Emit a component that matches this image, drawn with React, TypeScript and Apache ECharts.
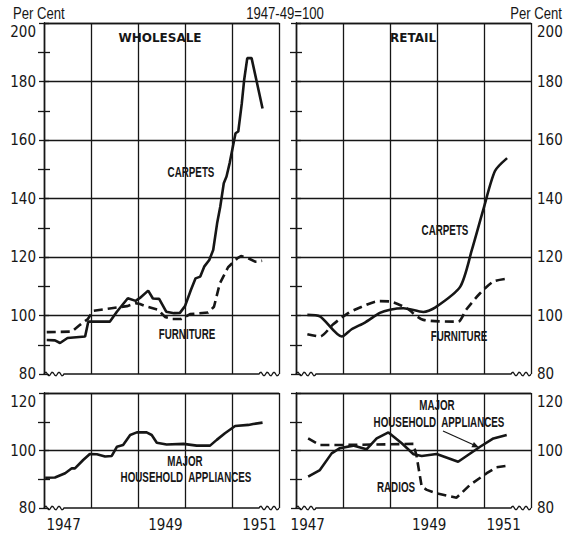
import React, { useEffect, useRef } from "react";
import * as echarts from "echarts";

// x values are months counted from January 1947 (0 = Jan 1947, 12 = Jan 1948 ...)
const wholesaleCarpetMonths = [0.7, 2.8, 4.1, 6, 10.5, 11.3, 16.8, 18.6, 21.4, 23.4, 24.5, 26.6, 27.8, 29.4, 31.2, 33.2, 34.7, 36, 37.5, 38.7, 39.9, 40.9, 42.2, 43.2, 44.2, 45, 45.9, 46.6, 47.4, 48.9, 49.6, 50.5, 51.1, 51.9, 53, 55.8];
const wholesaleCarpetValues = [91.6, 91.5, 90.6, 92.3, 92.8, 97.9, 97.9, 101.3, 105.9, 105, 106, 108.5, 105.8, 105.7, 101.3, 100.8, 100.9, 103.2, 108.7, 112.7, 113.3, 116.7, 119, 122.4, 131.5, 137.2, 145.2, 147.5, 152.1, 162.3, 162.9, 172.5, 180.5, 188, 188, 170.8];

const wholesaleFurnitureMonths = [0.7, 7.1, 9.2, 11.2, 12.5, 16.8, 21.2, 23.5, 24.5, 26.3, 29.1, 30.9, 32.7, 35, 37.3, 41.9, 43.4, 44.9, 47, 49.3, 50.3, 51.8, 53.9, 55.7];
const wholesaleFurnitureValues = [94.3, 94.5, 96.8, 98.8, 101.6, 102.4, 103.2, 104.2, 103.9, 103, 102, 99.5, 98.8, 98.8, 100.5, 101, 103, 111, 116.5, 119.5, 120.3, 119.8, 118.4, 118.7];

const retailCarpetMonths = [2.9, 6.1, 11.7, 14.2, 17.6, 21.4, 24, 27.4, 32.5, 35.5, 41.9, 44.9, 47.8, 50.8, 53.9];
const retailCarpetValues = [100.2, 99.7, 92.8, 95.3, 97.6, 100.9, 102, 102.5, 101.2, 102.7, 109.8, 122.4, 136.1, 149.4, 153.8];

const retailFurnitureMonths = [2.9, 6.1, 9.5, 13.4, 16.8, 21, 24, 28.3, 32.5, 41.4, 43.4, 47, 50.4, 53.8];
const retailFurnitureValues = [93.6, 92.8, 97, 100.9, 103, 104.9, 104.8, 102.4, 98.5, 97.9, 101.9, 107.6, 111.6, 112.6];

const wholesaleApplianceMonths = [0.3, 2.8, 5.4, 7.1, 7.9, 10, 11.7, 13.5, 15.6, 17.3, 18.6, 20.2, 22, 23.7, 26.2, 27.5, 28.8, 31.3, 35.6, 39, 42.4, 44.1, 46.2, 48.8, 52.2, 53.4, 55.8];
const wholesaleApplianceValues = [90.5, 90.6, 92.1, 93.8, 93.8, 96.7, 98.8, 98.7, 97.9, 98.1, 101.3, 101.9, 105.4, 106.3, 106.3, 105.4, 102.7, 102.1, 102.3, 101.7, 101.7, 103.7, 106, 108.5, 108.9, 109.2, 109.7];

const retailApplianceMonths = [3.1, 6.1, 9.1, 11.2, 14.6, 18, 20.6, 23.6, 27, 30, 32.1, 35.9, 41.4, 47, 50.4, 53.8];
const retailApplianceValues = [90.9, 93.2, 99, 100.8, 101.7, 100.4, 104.2, 106.3, 102.5, 98.7, 98.1, 98.8, 96.1, 101.3, 104.2, 105.4];

const retailRadioMonths = [3.1, 6.1, 11.2, 30, 30.8, 32.1, 33.4, 35.9, 41, 44.4, 48.7, 51.2, 53.8];
const retailRadioValues = [104.2, 101.9, 101.9, 102.3, 97.9, 87.4, 86.3, 85.1, 83.6, 88, 92.1, 94.2, 94.7];

const leftYearLabels: Record<number, string> = { 5: "1947", 31: "1949", 55: "1951" };
const rightYearLabels: Record<number, string> = { 3: "1947", 34: "1949", 53: "1951" };

const INK = "#161616";
const NARROW = '"Liberation Sans Narrow", "DejaVu Sans Condensed", "Liberation Sans", sans-serif';

const panels = [
  { left: 44, top: 23, width: 235, height: 351, min: 80, max: 200, side: "left", years: null as null | Record<number, string> },
  { left: 296, top: 23, width: 235, height: 351, min: 80, max: 200, side: "right", years: null as null | Record<number, string> },
  { left: 44, top: 393, width: 235, height: 115, min: 80, max: 120, side: "left", years: leftYearLabels },
  { left: 296, top: 393, width: 235, height: 115, min: 80, max: 120, side: "right", years: rightYearLabels },
];

function zip(xs: number[], ys: number[]) {
  return xs.map((x, i) => [x, ys[i]]);
}

function wavyBorder(left: number, right: number, y: number) {
  const pts: number[][] = [];
  const w = 20;
  for (let k = 0; k <= w; k++) pts.push([left + k, y - 1.8 * Math.sin((k / w) * Math.PI * 6)]);
  for (let k = 0; k <= w; k++) pts.push([right - w + k, y - 1.8 * Math.sin((k / w) * Math.PI * 6)]);
  return pts;
}

export default function App() {
  const ref = useRef<HTMLDivElement>(null);
  useEffect(() => {
    if (!ref.current) return;
    const chart = echarts.init(ref.current, undefined, { renderer: "svg" });
    const line = { color: INK, width: 1.3 };
    const grids: any[] = [];
    const xAxes: any[] = [];
    const yAxes: any[] = [];
    const mainX: number[] = [];
    const mainY: number[] = [];
    panels.forEach((p, i) => {
      grids.push({ left: p.left, top: p.top, width: p.width, height: p.height, show: false, outerBoundsMode: "none" });
      mainX.push(xAxes.length);
      xAxes.push({
        type: "value", gridIndex: i, min: 0, max: 60, interval: 12,
        axisLine: { show: false }, axisTick: { show: false }, axisLabel: { show: false },
        splitLine: { show: true, lineStyle: line },
      });
      xAxes.push({
        type: "value", gridIndex: i, position: "top", min: 0, max: 60, interval: 12,
        axisLine: { show: true, lineStyle: line }, axisTick: { show: false }, axisLabel: { show: false }, splitLine: { show: false },
      });
      if (p.years) {
        const yrs = p.years;
        xAxes.push({
          type: "value", gridIndex: i, position: "bottom", min: 0, max: 60, interval: 1,
          axisLine: { show: false }, axisTick: { show: false }, splitLine: { show: false },
          axisLabel: {
            show: true, margin: 9, color: INK, fontSize: 15, fontFamily: NARROW,
            formatter: (v: number) => yrs[Math.round(v)] ?? "",
          },
        });
      }
      const labelCfg = (show: boolean) => ({
        show, color: INK, fontSize: 15, fontFamily: NARROW, lineHeight: 18,
        margin: p.side === "left" ? 8 : 6,
        formatter: (v: number) => (v === p.max ? "\n" + v : String(v)),
      });
      mainY.push(yAxes.length);
      yAxes.push({
        type: "value", gridIndex: i, position: "left", min: p.min, max: p.max, interval: 20,
        axisLine: { show: true, lineStyle: line },
        axisTick: { show: true, inside: true, length: 5, lineStyle: line },
        minorTick: { show: true, splitNumber: 2, length: 6, lineStyle: line },
        splitLine: { show: true, showMinLine: false, lineStyle: line },
        axisLabel: labelCfg(p.side === "left"),
      });
      yAxes.push({
        type: "value", gridIndex: i, position: "right", min: p.min, max: p.max, interval: 20,
        axisLine: { show: true, lineStyle: line },
        axisTick: { show: true, inside: true, length: 5, lineStyle: line },
        minorTick: { show: true, splitNumber: 2, length: 6, lineStyle: line },
        splitLine: { show: false },
        axisLabel: labelCfg(p.side === "right"),
      });
    });

    const solid = { color: INK, width: 2.6, type: "solid" };
    const dashed = { color: INK, width: 2.6, type: [9, 5] };
    const mk = (panel: number, data: number[][], style: any, smooth: number | boolean = false) => ({
      type: "line", xAxisIndex: mainX[panel], yAxisIndex: mainY[panel], data, showSymbol: false,
      symbol: "none", lineStyle: style, smooth, silent: true, z: 5,
    });

    const series = [
      mk(0, zip(wholesaleCarpetMonths, wholesaleCarpetValues), solid),
      mk(0, zip(wholesaleFurnitureMonths, wholesaleFurnitureValues), dashed),
      mk(1, zip(retailCarpetMonths, retailCarpetValues), solid, 0.25),
      mk(1, zip(retailFurnitureMonths, retailFurnitureValues), dashed, 0.25),
      mk(2, zip(wholesaleApplianceMonths, wholesaleApplianceValues), solid),
      mk(3, zip(retailApplianceMonths, retailApplianceValues), solid),
      mk(3, zip(retailRadioMonths, retailRadioValues), dashed),
    ];

    const txt = (text: string, x: number, y: number, font: string, align = "center", sx = 1) => ({
      type: "text", x, y, scaleX: sx, silent: true, z: 10,
      style: { text, font, fill: INK, align, verticalAlign: "middle", textAlign: align, textVerticalAlign: "middle" },
    });
    const labelFont = 'bold 14px "Liberation Sans", Arial, sans-serif';
    const plain = '16px "Liberation Sans", Arial, sans-serif';
    const SX = 0.7;
    const graphic: any[] = [
      txt("Per Cent", 13, 14, plain, "left", 0.82),
      txt("1947-49=100", 285, 14, plain, "center", 0.82),
      txt("Per Cent", 562, 14, plain, "right", 0.82),
      txt("WHOLESALE", 160, 38, 'bold 12px "DejaVu Sans", sans-serif'),
      txt("RETAIL", 413, 38, 'bold 12px "DejaVu Sans", sans-serif'),
      txt("CARPETS", 191, 172, labelFont, "center", SX),
      txt("FURNITURE", 187, 334, labelFont, "center", SX),
      txt("CARPETS", 445, 230, labelFont, "center", SX),
      txt("FURNITURE", 459, 336, labelFont, "center", SX),
      txt("MAJOR", 185, 461, labelFont, "center", SX),
      txt("HOUSEHOLD  APPLIANCES", 186, 477, labelFont, "center", SX),
      txt("MAJOR", 437, 405, labelFont, "center", SX),
      txt("HOUSEHOLD  APPLIANCES", 439, 422, labelFont, "center", SX),
      txt("RADIOS", 396, 487, labelFont, "center", SX),
      { type: "line", silent: true, z: 10, shape: { x1: 443, y1: 431, x2: 474, y2: 445 }, style: { stroke: INK, lineWidth: 1.2 } },
      { type: "polygon", silent: true, z: 10, shape: { points: [[479, 447.5], [471.4, 447.3], [473.9, 441.9]] }, style: { fill: INK } },
    ];
    panels.forEach((p) => {
      graphic.push({
        type: "polyline", silent: true, z: 10,
        shape: { points: wavyBorder(p.left, p.left + p.width, p.top + p.height) },
        style: { stroke: INK, lineWidth: 1.3, fill: null },
      });
    });

    chart.setOption({
      animation: false,
      backgroundColor: "#ffffff",
      grid: grids,
      xAxis: xAxes,
      yAxis: yAxes,
      series,
      graphic,
    });
    return () => chart.dispose();
  }, []);
  return (
    <div
      ref={ref}
      style={{ position: "absolute", left: 0, top: 0, width: 569, height: 534, background: "#fff" }}
    />
  );
}
